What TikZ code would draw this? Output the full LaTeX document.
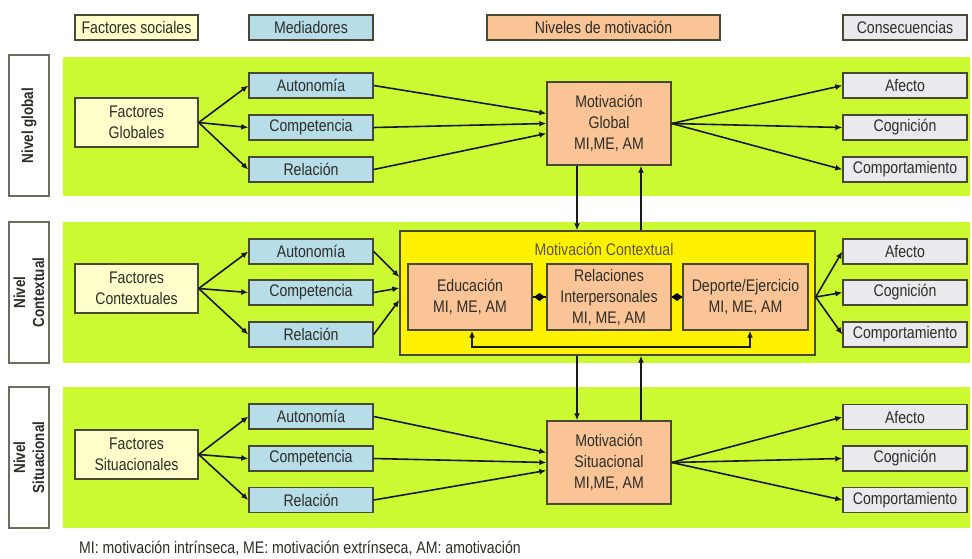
\documentclass[tikz,border=0pt]{standalone}
\usepackage{fontspec}
\setmainfont{Liberation Sans}[FakeStretch=0.84]
\usetikzlibrary{arrows.meta,calc}
\definecolor{bandgreen}{RGB}{204,250,50}
\definecolor{cream}{RGB}{255,255,204}
\definecolor{medblue}{RGB}{183,221,232}
\definecolor{peach}{RGB}{250,196,150}
\definecolor{lgray}{RGB}{234,234,238}
\definecolor{brd}{RGB}{72,72,52}
\definecolor{txt}{RGB}{45,45,40}
\definecolor{titletxt}{RGB}{95,85,30}
\tikzset{
  box/.style={draw=brd, line width=1.4pt, text=txt, font=\fontsize{16.8}{21}\selectfont, align=center, inner sep=1pt},
  hdr/.style={box, minimum height=25pt},
  med/.style={box, fill=medblue, minimum width=124pt, minimum height=25pt},
  fac/.style={box, fill=cream, minimum width=123pt, minimum height=49pt},
  mot/.style={box, fill=peach, minimum width=124pt},
  con/.style={box, fill=lgray, minimum width=124pt, minimum height=25pt},
  lvl/.style={draw=brd!80, line width=1.4pt, fill=white, text=txt, minimum width=141pt, minimum height=40pt, rotate=90, align=center, font=\fontsize{16}{19}\selectfont\bfseries},
  arr/.style={draw=black!90, line width=1.6pt, -{Latex[length=7pt,width=6pt]}},
  arrb/.style={draw=black!90, line width=1.6pt, {Latex[length=7pt,width=6pt]}-{Latex[length=7pt,width=6pt]}},
  ln/.style={draw=black!90, line width=1.6pt}
}
\begin{document}
\begin{tikzpicture}[x=1pt,y=-1pt]
\useasboundingbox[fill=white] (0,0) rectangle (972,558);
% bands
\fill[bandgreen] (63,57) rectangle (970,196);
\fill[bandgreen] (63,222) rectangle (970,363);
\fill[bandgreen] (63,387) rectangle (970,528);
% headers
\node[hdr, fill=cream, minimum width=123pt] (hFS) at (136.5,27.5) {Factores sociales};
\node[hdr, fill=medblue, minimum width=124pt] (hMed) at (311,27.5) {Mediadores};
\node[hdr, fill=peach, minimum width=233pt] (hNiv) at (603.5,27.5) {Niveles de motivación};
\node[hdr, fill=lgray, minimum width=124pt] (hCon) at (905,27.5) {Consecuencias};
% level labels
\node[lvl] (lG) at (29,125.5) {Nivel global};
\node[lvl] (lC) at (29,292.5) {Nivel\\Contextual};
\node[lvl] (lS) at (29,457.5) {Nivel\\Situacional};
% ---------- band 1 ----------
\node[fac] (fG) at (136.5,122.5) {Factores\\Globales};
\node[med] (aG) at (311,85.5) {Autonomía};
\node[med] (cG) at (311,127.5) {Competencia};
\node[med] (rG) at (311,169.5) {Relación};
\node[mot, minimum height=83pt] (mG) at (609,123.5) {Motivación\\Global\\MI,ME, AM};
\node[con] (afG) at (905,85.5) {Afecto};
\node[con] (coG) at (905,127.5) {Cognición};
\node[con] (cmG) at (905,169.5) {Comportamiento};
\draw[arr] (fG.east) -- (aG.west);
\draw[arr] (fG.east) -- (cG.west);
\draw[arr] (fG.east) -- (rG.west);
\draw[arr] (aG.east) -- ($(mG.west)+(0,-10)$);
\draw[arr] (cG.east) -- (mG.west);
\draw[arr] (rG.east) -- ($(mG.west)+(0,10)$);
\draw[arr] (mG.east) -- (afG.west);
\draw[arr] (mG.east) -- (coG.west);
\draw[arr] (mG.east) -- (cmG.west);
% ---------- band 2 ----------
\node[fac] (fC) at (136.5,288.5) {Factores\\Contextuales};
\node[med] (aC) at (311,251.5) {Autonomía};
\node[med] (cC) at (311,292.5) {Competencia};
\node[med] (rC) at (311,334.5) {Relación};
\node[draw=brd, line width=1.4pt, fill=yellow, minimum width=415pt, minimum height=124pt] (yel) at (607.5,293) {};
\node[text=titletxt, font=\fontsize{16.8}{21}\selectfont] (ttl) at (604,249) {Motivación Contextual};
\node[mot, minimum height=66pt] (edu) at (470,297) {Educación\\MI, ME, AM};
\node[mot, minimum height=66pt] (rel) at (609,297) {Relaciones\\Interpersonales\\MI, ME, AM};
\node[mot, minimum height=66pt, minimum width=125pt] (dep) at (745.5,297) {Deporte/Ejercicio\\MI, ME, AM};
\node[con] (afC) at (905,251.5) {Afecto};
\node[con] (coC) at (905,292.5) {Cognición};
\node[con] (cmC) at (905,334.5) {Comportamiento};
\draw[arr] (fC.east) -- (aC.west);
\draw[arr] (fC.east) -- (cC.west);
\draw[arr] (fC.east) -- (rC.west);
\draw[arr] (aC.east) -- ($(yel.west)+(0,-16)$);
\draw[arr] (cC.east) -- ($(yel.west)+(0,-5)$);
\draw[arr] (rC.east) -- ($(yel.west)+(0,7)$);
\draw[arr] ($(yel.east)+(0,4)$) -- (afC.west);
\draw[arr] ($(yel.east)+(0,4)$) -- (coC.west);
\draw[arr] ($(yel.east)+(0,4)$) -- (cmC.west);
% links between inner boxes
\draw[ln] (edu.east) -- (rel.west);
\fill[black] ($(edu.east)!0.5!(rel.west)$) +(-5.5,0) -- +(0,-4) -- +(5.5,0) -- +(0,4) -- cycle;
\draw[ln] (rel.east) -- (dep.west);
\fill[black] ($(rel.east)!0.5!(dep.west)$) +(-5.5,0) -- +(0,-4) -- +(5.5,0) -- +(0,4) -- cycle;
\coordinate (lpA) at (472,347);
\coordinate (lpB) at (750,347);
\draw[arrb] (edu.south -| lpA) -- (lpA) -- (lpB) -- (dep.south -| lpB);
% ---------- band 3 ----------
\node[fac] (fS) at (136.5,454.5) {Factores\\Situacionales};
\node[med] (aS) at (311,416.5) {Autonomía};
\node[med] (cS) at (311,458.5) {Competencia};
\node[med] (rS) at (311,500) {Relación};
\node[mot, minimum height=83pt] (mS) at (609,462.5) {Motivación\\Situacional\\MI,ME, AM};
\node[con] (afS) at (905,417) {Afecto};
\node[con] (coS) at (905,458.5) {Cognición};
\node[con] (cmS) at (905,500) {Comportamiento};
\draw[arr] (fS.east) -- (aS.west);
\draw[arr] (fS.east) -- (cS.west);
\draw[arr] (fS.east) -- (rS.west);
\draw[arr] (aS.east) -- ($(mS.west)+(0,-10)$);
\draw[arr] (cS.east) -- (mS.west);
\draw[arr] (rS.east) -- ($(mS.west)+(0,8)$);
\draw[arr] (mS.east) -- (afS.west);
\draw[arr] (mS.east) -- (coS.west);
\draw[arr] (mS.east) -- (cmS.west);
% ---------- vertical links ----------
\draw[arr] ($(mG.south)+(-32,0)$) -- ($(yel.north)+(-30.5,0)$);
\draw[arr] ($(yel.north)+(33.5,0)$) -- ($(mG.south)+(32,0)$);
\draw[arr] ($(yel.south)+(-30.5,0)$) -- ($(mS.north)+(-32,0)$);
\draw[arr] ($(mS.north)+(32,0)$) -- ($(yel.south)+(33.5,0)$);
% footnote
\node[anchor=west, text=txt, font=\fontsize{16.8}{18}\selectfont, inner sep=0pt] (fn) at (79,548) {MI: motivación intrínseca, ME: motivación extrínseca, AM: amotivación};
\end{tikzpicture}
\end{document}
